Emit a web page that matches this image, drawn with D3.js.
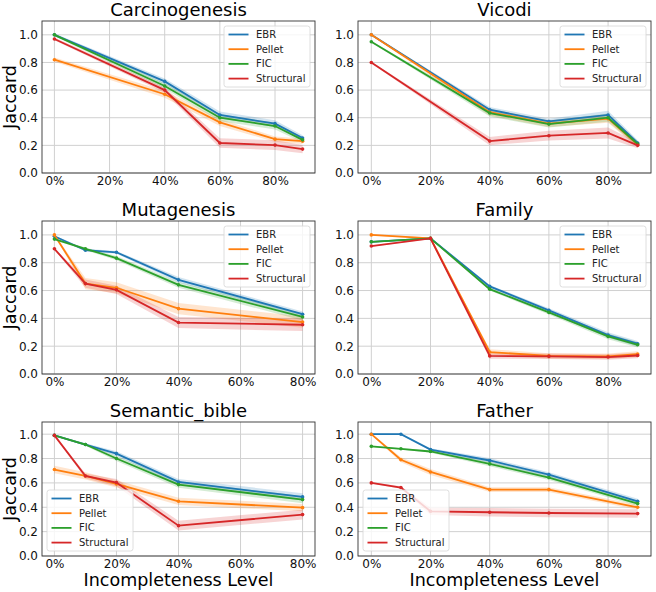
<!DOCTYPE html>
<html>
<head>
<meta charset="utf-8">
<script src="https://cdn.jsdelivr.net/npm/d3@7"></script>
<style>
  body { margin: 0; background: #fff; }
  text { font-family: "DejaVu Sans", sans-serif; }
</style>
</head>
<body>
<div id="chart"></div>
<script>
// shared
const seriesNames = ["EBR", "Pellet", "FIC", "Structural"];
const seriesColors = ["#1f77b4", "#ff7f0e", "#2ca02c", "#d62728"];
const yTicks = [0, 0.2, 0.4, 0.6, 0.8, 1.0];
const xTicks = [0, 20, 40, 60, 80];

// Carcinogenesis
const carcX = [0, 40, 60, 80, 90];
const carcEBR = [1.0, 0.663, 0.42, 0.357, 0.253];
const carcPellet = [0.82, 0.57, 0.366, 0.245, 0.23];
const carcFIC = [1.0, 0.63, 0.40, 0.34, 0.24];
const carcStruct = [0.97, 0.60, 0.217, 0.202, 0.173];
const carcErr = [[0.01, 0.02, 0.025, 0.025, 0.02], [0.015, 0.025, 0.025, 0.02, 0.02],
                 [0.01, 0.02, 0.025, 0.025, 0.02], [0.01, 0.02, 0.035, 0.035, 0.03]];

// Vicodi
const vicX = [0, 40, 60, 80, 90];
const vicEBR = [1.0, 0.458, 0.373, 0.42, 0.217];
const vicPellet = [1.0, 0.44, 0.357, 0.393, 0.205];
const vicFIC = [0.95, 0.434, 0.354, 0.40, 0.21];
const vicStruct = [0.80, 0.231, 0.27, 0.29, 0.20];
const vicErr = [[0.005, 0.02, 0.02, 0.03, 0.02], [0.005, 0.025, 0.025, 0.03, 0.02],
                [0.005, 0.025, 0.025, 0.03, 0.02], [0.005, 0.03, 0.035, 0.04, 0.02]];

// Mutagenesis
const mutX = [0, 10, 20, 40, 80];
const mutEBR = [0.99, 0.89, 0.875, 0.677, 0.43];
const mutPellet = [1.0, 0.65, 0.62, 0.47, 0.373];
const mutFIC = [0.97, 0.90, 0.833, 0.641, 0.41];
const mutStruct = [0.90, 0.65, 0.605, 0.37, 0.354];
const mutErr = [[0.005, 0.01, 0.01, 0.02, 0.02], [0.005, 0.04, 0.04, 0.04, 0.04],
                [0.005, 0.01, 0.015, 0.02, 0.025], [0.005, 0.03, 0.03, 0.04, 0.045]];

// Family
const famX = [0, 20, 40, 60, 80, 90];
const famEBR = [0.95, 0.975, 0.63, 0.458, 0.28, 0.218];
const famPellet = [1.0, 0.976, 0.158, 0.13, 0.127, 0.143];
const famFIC = [0.95, 0.975, 0.61, 0.443, 0.27, 0.21];
const famStruct = [0.92, 0.975, 0.13, 0.127, 0.122, 0.133];
const famErr = [[0.005, 0.005, 0.01, 0.015, 0.02, 0.02], [0.005, 0.005, 0.02, 0.02, 0.02, 0.02],
                [0.005, 0.005, 0.01, 0.015, 0.02, 0.02], [0.005, 0.005, 0.02, 0.02, 0.02, 0.02]];

// Semantic_bible
const semX = [0, 10, 20, 40, 80];
const semEBR = [0.99, 0.915, 0.84, 0.608, 0.485];
const semPellet = [0.71, 0.657, 0.592, 0.449, 0.397];
const semFIC = [0.99, 0.915, 0.80, 0.586, 0.463];
const semStruct = [0.99, 0.657, 0.603, 0.249, 0.34];
const semErr = [[0.005, 0.01, 0.02, 0.025, 0.03], [0.03, 0.03, 0.03, 0.03, 0.03],
                [0.005, 0.01, 0.02, 0.025, 0.03], [0.005, 0.02, 0.03, 0.04, 0.04]];

// Father
const fatX = [0, 10, 20, 40, 60, 90];
const fatEBR = [1.0, 1.0, 0.874, 0.784, 0.668, 0.449];
const fatPellet = [1.0, 0.79, 0.69, 0.545, 0.545, 0.40];
const fatFIC = [0.90, 0.88, 0.858, 0.756, 0.644, 0.43];
const fatStruct = [0.60, 0.562, 0.367, 0.359, 0.353, 0.348];
const fatErr = [[0.005, 0.005, 0.01, 0.02, 0.02, 0.02], [0.005, 0.02, 0.025, 0.02, 0.02, 0.02],
                [0.005, 0.005, 0.01, 0.02, 0.02, 0.02], [0.005, 0.01, 0.03, 0.035, 0.035, 0.035]];

const width = 656, height = 592;

// axes boxes
const cols = [{left: 42, right: 315}, {left: 358, right: 651}];
const rows = [{top: 21, bottom: 173}, {top: 221, bottom: 374}, {top: 422, bottom: 556}];

const panels = [
  {title: "Carcinogenesis", x: carcX, vals: [carcEBR, carcPellet, carcFIC, carcStruct], err: carcErr, col: 0, row: 0, legend: "ur"},
  {title: "Vicodi", x: vicX, vals: [vicEBR, vicPellet, vicFIC, vicStruct], err: vicErr, col: 1, row: 0, legend: "ur"},
  {title: "Mutagenesis", x: mutX, vals: [mutEBR, mutPellet, mutFIC, mutStruct], err: mutErr, col: 0, row: 1, legend: "ur"},
  {title: "Family", x: famX, vals: [famEBR, famPellet, famFIC, famStruct], err: famErr, col: 1, row: 1, legend: "ur"},
  {title: "Semantic_bible", x: semX, vals: [semEBR, semPellet, semFIC, semStruct], err: semErr, col: 0, row: 2, legend: "ll"},
  {title: "Father", x: fatX, vals: [fatEBR, fatPellet, fatFIC, fatStruct], err: fatErr, col: 1, row: 2, legend: "ll"}
];

const svg = d3.select("#chart").append("svg")
    .attr("width", width)
    .attr("height", height)
    .style("background", "#fff");

panels.forEach(p => {
    const c = cols[p.col], r = rows[p.row];
    const xmax = d3.max(p.x);
    const pad = xmax * 0.05;

    let x = d3.scaleLinear()
        .domain([-pad, xmax + pad])
        .range([c.left, c.right]);
    let y = d3.scaleLinear()
        .domain([0, 1.1])
        .range([r.bottom, r.top]);

    const g = svg.append("g");

    // grid
    g.append("g").selectAll("line")
        .data(yTicks)
        .join("line")
        .attr("x1", c.left).attr("x2", c.right)
        .attr("y1", d => y(d)).attr("y2", d => y(d))
        .attr("stroke", "#d0d0d0").attr("stroke-width", 1);
    g.append("g").selectAll("line")
        .data(xTicks)
        .join("line")
        .attr("x1", d => x(d)).attr("x2", d => x(d))
        .attr("y1", r.top).attr("y2", r.bottom)
        .attr("stroke", "#d0d0d0").attr("stroke-width", 1);

    // axes (labels only, no tick marks)
    g.append("g")
        .attr("transform", `translate(${c.left},0)`)
        .call(d3.axisLeft(y).tickValues(yTicks).tickFormat(d3.format(".1f")).tickSize(0).tickPadding(4))
        .call(a => a.select(".domain").remove())
        .call(a => a.selectAll("text").style("font-size", "12px").attr("fill", "#111").style("font-family", "DejaVu Sans"));
    g.append("g")
        .attr("transform", `translate(0,${r.bottom})`)
        .call(d3.axisBottom(x).tickValues(xTicks).tickFormat(d => d + "%").tickSize(0).tickPadding(3.5))
        .call(a => a.select(".domain").remove())
        .call(a => a.selectAll("text").style("font-size", "12px").attr("fill", "#111").style("font-family", "DejaVu Sans"));

    // error bands
    p.vals.forEach((v, i) => {
        const pts = p.x.map((xv, j) => ({x: xv, y: v[j], e: p.err[i][j]}));
        g.append("path")
            .datum(pts)
            .attr("fill", seriesColors[i])
            .attr("fill-opacity", 0.2)
            .attr("d", d3.area()
                .x(d => x(d.x))
                .y0(d => y(d.y - d.e))
                .y1(d => y(d.y + d.e)));
    });

    // lines + markers
    p.vals.forEach((v, i) => {
        const pts = p.x.map((xv, j) => ({x: xv, y: v[j]}));
        g.append("path")
            .datum(pts)
            .attr("fill", "none")
            .attr("stroke", seriesColors[i])
            .attr("stroke-width", 1.8)
            .attr("d", d3.line().x(d => x(d.x)).y(d => y(d.y)));
        g.append("g").selectAll("circle")
            .data(pts)
            .join("circle")
            .attr("cx", d => x(d.x))
            .attr("cy", d => y(d.y))
            .attr("r", 1.8)
            .attr("fill", seriesColors[i]);
    });

    // frame
    g.append("rect")
        .attr("x", c.left).attr("y", r.top)
        .attr("width", c.right - c.left).attr("height", r.bottom - r.top)
        .attr("fill", "none").attr("stroke", "#333").attr("stroke-width", 0.9);

    // title
    g.append("text")
        .attr("x", (c.left + c.right) / 2)
        .attr("y", r.top - 5)
        .attr("text-anchor", "middle")
        .style("font-size", "18px")
        .text(p.title);

    // legend
    const lw = 86, lh = 61;
    const lx = p.legend === "ur" ? c.right - 5 - lw : c.left + 5;
    const ly = p.legend === "ur" ? r.top + 5 : r.bottom - 5 - lh;
    const leg = g.append("g").attr("transform", `translate(${lx},${ly})`);
    leg.append("rect")
        .attr("width", lw).attr("height", lh)
        .attr("rx", 2.5)
        .attr("fill", "#fff").attr("fill-opacity", 0.8)
        .attr("stroke", "#d5d5d5").attr("stroke-width", 0.8);
    seriesNames.forEach((s, i) => {
        const yy = 8.5 + i * 14.7;
        leg.append("line")
            .attr("x1", 4.5).attr("x2", 24.5)
            .attr("y1", yy).attr("y2", yy)
            .attr("stroke", seriesColors[i]).attr("stroke-width", 1.8);
        leg.append("text")
            .attr("x", 32).attr("y", yy)
            .attr("dy", "0.35em")
            .style("font-size", "10px")
            .attr("fill", "#222")
            .text(s);
    });

    // axis labels
    if (p.col === 0) {
        g.append("text")
            .attr("transform", `translate(16,${(r.top + r.bottom) / 2}) rotate(-90)`)
            .attr("text-anchor", "middle")
            .style("font-size", "17.5px")
            .text("Jaccard");
    }
    if (p.row === 2) {
        g.append("text")
            .attr("x", (c.left + c.right) / 2)
            .attr("y", 586)
            .attr("text-anchor", "middle")
            .style("font-size", "17.5px")
            .text("Incompleteness Level");
    }
});
</script>
</body>
</html>
